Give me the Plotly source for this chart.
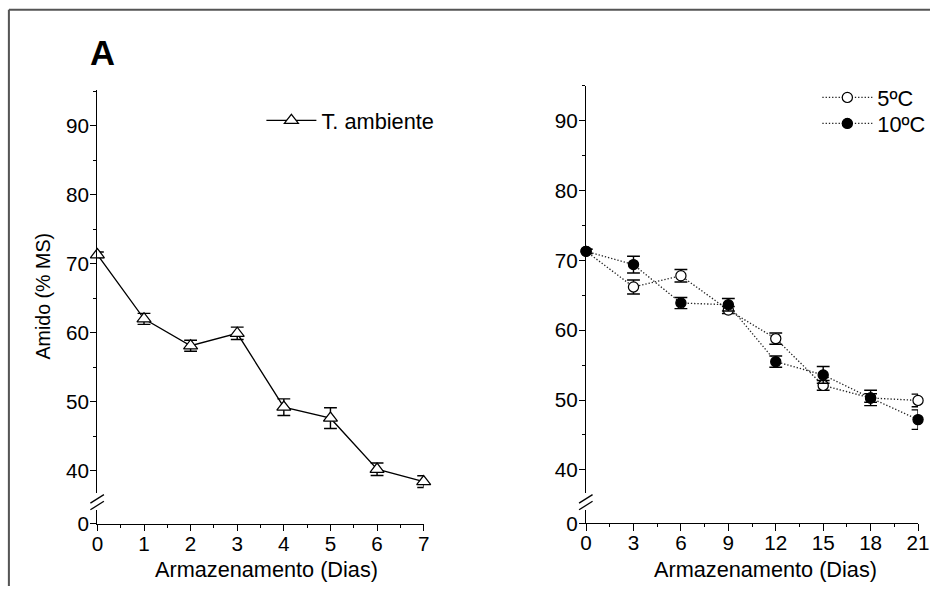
import plotly.graph_objects as go

# ---------------- data ----------------
days_amb = [0, 1, 2, 3, 4, 5, 6, 7]
amido_amb = [71.3, 62.0, 58.1, 59.9, 49.2, 47.6, 40.2, 38.4]
err_amb = [0.4, 0.8, 0.8, 0.9, 1.2, 1.5, 0.9, 0.85]

days_cold = [0, 3, 6, 9, 12, 15, 18, 21]
amido_5 = [71.3, 66.2, 67.8, 62.9, 58.8, 52.1, 50.3, 49.95]
err_5 = [0.3, 1.0, 0.9, 0.5, 0.8, 0.7, 0.6, 0.9]
amido_10 = [71.3, 69.4, 63.9, 63.65, 55.5, 53.6, 50.3, 47.2]
err_10 = [0.3, 1.2, 0.8, 0.9, 0.8, 1.2, 1.1, 1.4]

y_ticks = [40, 50, 60, 70, 80, 90]
y_break_ticks = [0]
x_ticks_left = [0, 1, 2, 3, 4, 5, 6, 7]
x_ticks_right = [0, 3, 6, 9, 12, 15, 18, 21]

names = ["T. ambiente", "5ºC", "10ºC"]
x_title = "Armazenamento (Dias)"
y_title = "Amido (% MS)"
panel_label = "A"

# ---------------- geometry helpers ----------------
W, H = 941, 597
FONT = "Liberation Sans, Arial, sans-serif"
# the captured page comes out slightly reduced; place things so that they
# land on the target picture positions
S, BX, BY = 0.982, 5.6, -0.8
K = 1 / S


def X(x):
    return ((x - BX) / S) / W


def Y(y):
    return 1 - ((y - BY) / S) / H


fig = go.Figure()

err_style = dict(type="data", thickness=1.4 * K, width=6.3 * K, color="black")
dotted = f"{1.3 * K:.2f}px,{1.9 * K:.2f}px"

fig.add_trace(go.Scatter(
    x=days_amb, y=amido_amb, name=names[0], mode="lines+markers",
    xaxis="x", yaxis="y", legend="legend", cliponaxis=False,
    line=dict(color="black", width=1.3 * K),
    marker=dict(symbol="triangle-up", size=12 * K, color="white",
                line=dict(color="black", width=1.2 * K)),
    error_y=dict(array=err_amb, **err_style),
))

fig.add_trace(go.Scatter(
    x=days_cold, y=amido_5, name=names[1], mode="lines+markers",
    xaxis="x2", yaxis="y3", legend="legend2", cliponaxis=False,
    line=dict(color="#222", width=1.3 * K, dash=dotted),
    marker=dict(symbol="circle", size=10 * K, color="white",
                line=dict(color="black", width=1.2 * K)),
    error_y=dict(array=err_5, **err_style),
))

fig.add_trace(go.Scatter(
    x=days_cold, y=amido_10, name=names[2], mode="lines+markers",
    xaxis="x2", yaxis="y3", legend="legend3", cliponaxis=False,
    line=dict(color="#222", width=1.3 * K, dash=dotted),
    marker=dict(symbol="circle", size=10 * K, color="black",
                line=dict(color="black", width=1.2 * K)),
    error_y=dict(array=err_10, **err_style),
))

# empty traces that register the lower (broken) axis segments as subplots
fig.add_trace(go.Scatter(x=[], y=[], xaxis="x", yaxis="y2",
                         showlegend=False, hoverinfo="skip"))
fig.add_trace(go.Scatter(x=[], y=[], xaxis="x2", yaxis="y4",
                         showlegend=False, hoverinfo="skip"))

tickfont = dict(family=FONT, size=20.3 * K, color="black")
axis_common = dict(
    showline=True, linecolor="black", linewidth=1.3 * K,
    ticks="outside", ticklen=6 * K, tickwidth=1.3 * K, tickcolor="black",
    showgrid=False, zeroline=False, tickfont=tickfont, fixedrange=True,
)
minor_x = dict(ticks="outside", ticklen=3 * K, tickwidth=1.2 * K, tickcolor="black")
minor_y = dict(ticks="outside", ticklen=3 * K, tickwidth=1.2 * K, tickcolor="black")

# left panel (positions in target-picture pixels)
L0, L1 = 97, 423.3
sL = 6.9  # px per unit (left)
fig.update_layout(
    xaxis=dict(domain=[X(L0), X(L1)], anchor="y2", range=[0, 7],
               tickvals=x_ticks_left, ticklabelstandoff=-5,
               minor=dict(dtick=0.5, **minor_x), **axis_common),
    yaxis=dict(domain=[Y(492), Y(89)], anchor="x",
               range=[40 - (492 - 470) / sL, 90 + (125 - 89) / sL],
               tickvals=y_ticks, ticklabelstandoff=-3,
               minor=dict(dtick=5, **minor_y), **axis_common),
    yaxis2=dict(domain=[Y(523), Y(509)], anchor="x",
                range=[0, (523 - 509) / sL], tickvals=y_break_ticks,
                ticklabelstandoff=-3, **axis_common),
)

# right panel
R0, R1 = 585.7, 917.7
sR = 6.986
fig.update_layout(
    xaxis2=dict(domain=[X(R0), X(R1)], anchor="y4", range=[0, 21],
                tickvals=x_ticks_right, ticklabelstandoff=-5,
                minor=dict(dtick=1.5, **minor_x), **axis_common),
    yaxis3=dict(domain=[Y(492), Y(85)], anchor="x2",
                range=[40 - (492 - 469.3) / sR, 90 + (120 - 85) / sR],
                tickvals=y_ticks, ticklabelstandoff=-3,
                minor=dict(dtick=5, **minor_y), **axis_common),
    yaxis4=dict(domain=[Y(522.7), Y(509)], anchor="x2",
                range=[0, (522.7 - 509) / sR], tickvals=y_break_ticks,
                ticklabelstandoff=-3, **axis_common),
)

# axis break marks "//"
shapes = []
for ax in (L0, R0):
    for dy in (0, 6.7):
        shapes.append(dict(type="line", xref="paper", yref="paper",
                           x0=X(ax - 7), y0=Y(502.5 + dy),
                           x1=X(ax + 6.5), y1=Y(494 + dy),
                           line=dict(color="black", width=1.3 * K)))
# outer frame (top and left edges, the others fall outside the picture)
frame = dict(color="#555", width=2 * K)
shapes.append(dict(type="line", xref="paper", yref="paper",
                   x0=X(8.5), y0=Y(9), x1=1, y1=Y(9), line=frame))
shapes.append(dict(type="line", xref="paper", yref="paper",
                   x0=X(8.5), y0=Y(9), x1=X(8.5), y1=0, line=frame))

annotations = [
    dict(text=panel_label, x=X(102.5), y=Y(52), xref="paper", yref="paper",
         showarrow=False, xanchor="center", yanchor="middle",
         font=dict(family=FONT, size=34 * K, color="black", weight="bold")),
    dict(text=y_title, x=X(42.5), y=Y(295), xref="paper", yref="paper",
         showarrow=False, textangle=-90, xanchor="center", yanchor="middle",
         font=dict(family=FONT, size=19.3 * K, color="black")),
    dict(text=x_title, x=X(266), y=Y(569), xref="paper", yref="paper",
         showarrow=False, xanchor="center", yanchor="middle",
         font=dict(family=FONT, size=21.3 * K, color="black")),
    dict(text=x_title, x=X(765), y=Y(569), xref="paper", yref="paper",
         showarrow=False, xanchor="center", yanchor="middle",
         font=dict(family=FONT, size=21.3 * K, color="black")),
]

legend_font = dict(family=FONT, size=21.4 * K, color="black")
leg_common = dict(xanchor="left", yanchor="middle", bgcolor="rgba(0,0,0,0)",
                  font=legend_font, itemwidth=50, borderwidth=0)
fig.update_layout(
    width=W, height=H,
    margin=dict(l=0, r=0, t=0, b=0),
    paper_bgcolor="white", plot_bgcolor="white",
    font=dict(family=FONT, color="black"),
    shapes=shapes, annotations=annotations,
    showlegend=True,
    legend=dict(x=X(261), y=Y(120), **leg_common),
    legend2=dict(x=X(817), y=Y(97), **leg_common),
    legend3=dict(x=X(817), y=Y(123), **leg_common),
)

fig.write_html(
    "out.html",
    config={"displayModeBar": False, "responsive": False},
    post_script="document.documentElement.style.margin='0';"
                "document.body.style.margin='0';"
                "document.body.style.overflow='hidden';",
)
